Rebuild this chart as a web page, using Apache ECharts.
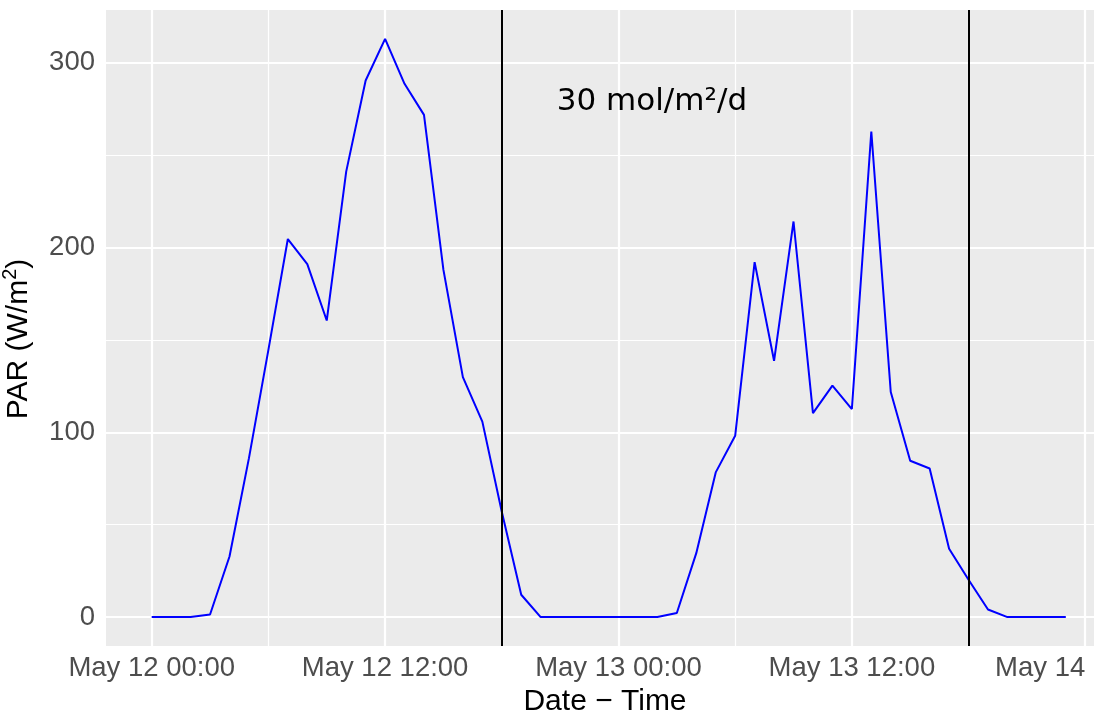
<!DOCTYPE html>
<html>
<head>
<meta charset="utf-8">
<style>
  html, body { margin: 0; padding: 0; background: #ffffff; }
  #chart { width: 1095px; height: 713px; }
</style>
<script src="https://cdn.jsdelivr.net/npm/echarts@6/dist/echarts.min.js"></script>
</head>
<body>
<div id="chart"></div>
<script>
// Hours since May 12 00:00 (hourly PAR readings)
const hours = [0, 1, 2, 3, 4, 5, 6, 7, 8, 9, 10, 11, 12, 13, 14, 15, 16, 17, 18, 19, 20, 21, 22, 23,
               24, 25, 26, 27, 28, 29, 30, 31, 32, 33, 34, 35, 36, 37, 38, 39, 40, 41, 42, 43, 44, 45, 46, 47];
// PAR, W/m²
const par = [0, 0, 0, 1.4, 32.8, 86, 144.6, 204.6, 191.0, 160.5, 241.1, 290.4, 312.9, 288.6, 271.8, 187.9,
             129.9, 105.8, 57, 12.1, 0, 0, 0, 0, 0, 0, 0, 2.2, 34.6, 78.3, 98.1, 192.1,
             138.7, 214.1, 110.4, 125.3, 112.6, 262.8, 121.8, 84.6, 80.4, 37.0, 20.2, 4.1, 0, 0, 0, 0];

// Day boundaries drawn as vertical reference lines (hours)
const dayMarks = [18, 42];

// Daily light integral note
const noteX = 25.72;
const noteY = 279;
const noteText = '30 mol/m²/d';

// Axis ticks
const xTicks = [0, 12, 24, 36, 48];
const xTickLabels = ['May 12 00:00', 'May 12 12:00', 'May 13 00:00', 'May 13 12:00', 'May 14'];
const xMinor = [6, 18, 30, 42];
const yTicks = [0, 100, 200, 300];
const yMinor = [50, 150, 250];

const FONT = '"Liberation Sans", Arial, Helvetica, sans-serif';

const chart = echarts.init(document.getElementById('chart'), null, { renderer: 'canvas' });

function gridLines(values, axis, width) {
  return values.map(v => ({
    [axis]: v,
    lineStyle: { color: '#FFFFFF', width: width, type: 'solid' }
  }));
}

chart.setOption({
  animation: false,
  backgroundColor: '#FFFFFF',
  grid: {
    left: 106, right: 1, top: 10, bottom: 67,
    show: true, backgroundColor: '#EBEBEB', borderWidth: 0,
    containLabel: false,
    outerBoundsMode: 'none'
  },
  xAxis: {
    type: 'value',
    min: -2.35, max: 48.45,
    name: 'Date − Time',
    nameLocation: 'middle',
    nameGap: 37,
    nameTextStyle: { color: '#000000', fontSize: 30, fontFamily: FONT, padding: [0, 0, 0, 10] },
    axisLine: { show: false },
    axisTick: { show: true, length: 5, customValues: xTicks, lineStyle: { color: '#333333', width: 1.5 } },
    axisLabel: {
      customValues: xTicks,
      margin: 8,
      color: '#4D4D4D', fontSize: 27.5, fontFamily: FONT,
      alignMaxLabel: 'right',
      formatter: v => xTickLabels[xTicks.indexOf(v)]
    },
    splitLine: { show: false }
  },
  yAxis: {
    type: 'value',
    min: -15.65, max: 328.55,
    name: 'PAR (W/m{sup|2})',
    nameLocation: 'middle',
    nameRotate: 90,
    nameGap: 60,
    nameTextStyle: {
      color: '#000000', fontSize: 30, fontFamily: FONT, lineHeight: 38,
      padding: [0, 22, 0, 0],
      rich: { sup: { fontSize: 20, lineHeight: 14, verticalAlign: 'top', color: '#000000', fontFamily: FONT } }
    },
    axisLine: { show: false },
    axisTick: { show: true, length: 5, customValues: yTicks, lineStyle: { color: '#333333', width: 1.5 } },
    axisLabel: {
      customValues: yTicks,
      margin: 11,
      color: '#4D4D4D', fontSize: 27.5, fontFamily: FONT
    },
    splitLine: { show: false }
  },
  series: [
    {
      // panel grid
      type: 'line',
      data: [],
      silent: true,
      z: 1,
      markLine: {
        silent: true, symbol: 'none', z: 1, animation: false,
        label: { show: false },
        data: [].concat(
          gridLines(yMinor, 'yAxis', 1.2),
          gridLines(xMinor, 'xAxis', 1.2),
          gridLines(yTicks, 'yAxis', 2.2),
          gridLines(xTicks, 'xAxis', 2.2)
        )
      }
    },
    {
      name: 'PAR',
      type: 'line',
      data: hours.map((h, i) => [h, par[i]]),
      showSymbol: false,
      z: 3,
      lineStyle: { color: '#0000FF', width: 2 },
      itemStyle: { color: '#0000FF' },
      markLine: {
        silent: true, symbol: 'none', z: 4, animation: false,
        label: { show: false },
        lineStyle: { color: '#000000', width: 2, type: 'solid' },
        data: dayMarks.map(d => ({ xAxis: d }))
      }
    },
    {
      name: 'note',
      type: 'scatter',
      data: [[noteX, noteY]],
      symbolSize: 1,
      z: 5,
      itemStyle: { color: 'rgba(0,0,0,0)', opacity: 1 },
      label: {
        show: true, position: 'inside',
        formatter: () => noteText,
        color: '#000000', fontSize: 31, fontFamily: '"DejaVu Sans", sans-serif',
        textBorderWidth: 0, opacity: 1
      }
    }
  ]
});
</script>
</body>
</html>
